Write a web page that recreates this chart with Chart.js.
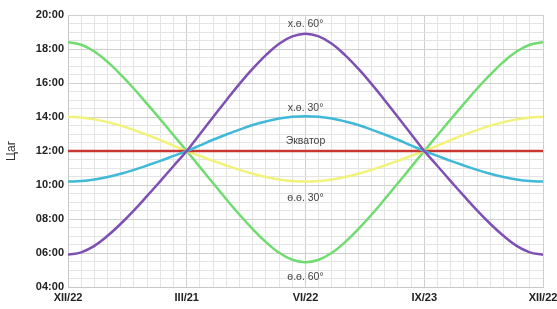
<!DOCTYPE html>
<html><head><meta charset="utf-8">
<script src="https://cdn.jsdelivr.net/npm/chart.js@4.4.1/dist/chart.umd.min.js"></script>
<style>html,body{margin:0;padding:0;background:#fff}#wrap{width:557px;height:309px}</style>
</head><body><div id="wrap"><canvas id="c" width="557" height="309"></canvas></div>
<script>
// x positions: 0..36 steps across the year (XII/22 .. XII/22)
const xTickLabels = {0:'XII/22', 9:'III/21', 18:'VI/22', 27:'IX/23', 36:'XII/22'};
const steps = [0,1,2,3,4,5,6,7,8,9,10,11,12,13,14,15,16,17,18,19,20,21,22,23,24,25,26,27,28,29,30,31,32,33,34,35,36];
const north60 = [5.90,6.04,6.42,7.01,7.72,8.51,9.36,10.23,11.12,12.00,13.00,14.00,14.99,15.95,16.84,17.64,18.31,18.74,18.90,18.74,18.31,17.64,16.84,15.95,14.99,14.00,13.00,12.00,11.12,10.23,9.36,8.51,7.72,7.01,6.42,6.04,5.90];
const north30 = [10.20,10.23,10.32,10.47,10.66,10.89,11.15,11.42,11.71,12.00,12.33,12.66,12.97,13.26,13.53,13.74,13.91,14.02,14.05,14.02,13.91,13.74,13.53,13.26,12.97,12.66,12.33,12.00,11.71,11.42,11.15,10.89,10.66,10.47,10.32,10.23,10.20];
const equator = [12,12,12,12,12,12,12,12,12,12,12,12,12,12,12,12,12,12,12,12,12,12,12,12,12,12,12,12,12,12,12,12,12,12,12,12,12];
const south30 = [14.00,13.97,13.86,13.70,13.49,13.23,12.95,12.64,12.32,12.00,11.71,11.42,11.15,10.89,10.66,10.47,10.32,10.23,10.20,10.23,10.32,10.47,10.66,10.89,11.15,11.42,11.71,12.00,12.32,12.64,12.95,13.23,13.49,13.70,13.86,13.97,14.00];
const south60 = [18.40,18.25,17.85,17.24,16.49,15.66,14.77,13.86,12.93,12.00,11.05,10.10,9.16,8.25,7.41,6.64,6.01,5.60,5.45,5.60,6.01,6.64,7.41,8.25,9.16,10.10,11.05,12.00,12.93,13.86,14.77,15.66,16.49,17.24,17.85,18.25,18.40];
const seriesNames = ['х.ө. 60°','х.ө. 30°','Экватор','ө.ө. 30°','ө.ө. 60°'];
// curve labels: text, x step, y value (hours)
const curveLabels = [
  {text:'х.ө. 60°', x:18, y:19.45},
  {text:'х.ө. 30°', x:18, y:14.55},
  {text:'Экватор', x:18, y:12.6},
  {text:'ө.ө. 30°', x:18, y:9.2},
  {text:'ө.ө. 60°', x:18, y:4.6}
];
const yTitle = 'Цаг';

const toPts = arr => arr.map((v,i)=>({x:steps[i], y:v}));
const colors = ['#7e50b4','#40b8d8','#c83830','#f2f27a','#70dc70'];
const allData = [north60, north30, equator, south30, south60];

const labelPlugin = {
  id:'curveLabels',
  afterDatasetsDraw(chart){
    const {ctx, scales:{x,y}} = chart;
    ctx.save();
    ctx.font = '10.5px "Liberation Sans", Arial, sans-serif';
    ctx.fillStyle = '#444';
    ctx.textAlign = 'center';
    ctx.textBaseline = 'middle';
    curveLabels.forEach(l=>ctx.fillText(l.text, x.getPixelForValue(l.x), y.getPixelForValue(l.y)));
    ctx.restore();
  }
};

new Chart(document.getElementById('c'), {
  type:'line',
  data:{datasets: allData.map((d,i)=>({
    label: seriesNames[i], data: toPts(d), borderColor: colors[i], borderWidth: 2.5,
    pointRadius:0, tension:0.4, fill:false
  }))},
  options:{
    responsive:false, animation:false,
    layout:{padding:{top:15, right:14, left:0, bottom:0}},
    plugins:{legend:{display:false}, tooltip:{enabled:false}},
    scales:{
      x:{type:'linear', min:0, max:36,
        afterFit(a){a.height = 22; a.paddingRight = 0; a.paddingLeft = 0;},
        border:{display:true, color:'#c8c8c8'},
        grid:{color:(c)=> (c.tick && c.tick.value%9===0) ? '#cfcfcf' : '#e4e4e4', lineWidth:1, drawTicks:false},
        ticks:{stepSize:1, autoSkip:false, maxRotation:0, padding:4, color:'#222',
          font:{family:'"Liberation Sans", Arial, sans-serif', size:11, weight:'bold'},
          callback:(v)=> xTickLabels[v] !== undefined ? xTickLabels[v] : ''}
      },
      y:{min:4, max:20,
        afterFit(a){a.width = 68; a.paddingTop = 0; a.paddingBottom = 0;},
        border:{display:true, color:'#c8c8c8'},
        title:{display:true, text:yTitle, color:'#333', font:{family:'"Liberation Sans", Arial, sans-serif', size:12}, padding:{bottom:8}},
        grid:{color:(c)=> (c.tick && c.tick.value%2===0) ? '#cfcfcf' : '#e4e4e4', lineWidth:1, drawTicks:false},
        ticks:{stepSize:0.5, autoSkip:false, padding:4, color:'#222',
          font:{family:'"Liberation Sans", Arial, sans-serif', size:11, weight:'bold'},
          callback:(v)=> (v%2===0) ? String(v).padStart(2,'0')+':00' : ''}
      }
    }
  },
  plugins:[labelPlugin]
});
</script></body></html>
